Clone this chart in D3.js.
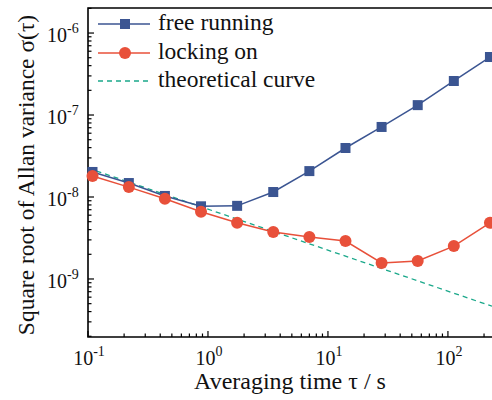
<!DOCTYPE html>
<html>
<head>
<meta charset="utf-8">
<script src="https://cdn.jsdelivr.net/npm/d3@7"></script>
<style>
  body { margin: 0; background: #fff; }
  svg text { font-family: "Liberation Serif", "DejaVu Serif", serif; fill: #111; }
</style>
</head>
<body>
<svg id="chart" width="492" height="400"></svg>
<script>
// averaging times (s)
var tau = [0.109, 0.219, 0.4375, 0.875, 1.75, 3.5, 7, 14, 28, 56, 112, 224];
// free running
var freeRunning = [2.02e-8, 1.48e-8, 1.03e-8, 7.7e-9, 7.8e-9, 1.15e-8, 2.07e-8, 3.96e-8, 7.15e-8, 1.32e-7, 2.6e-7, 5.1e-7];
// locking on
var lockingOn = [1.8e-8, 1.32e-8, 9.5e-9, 6.6e-9, 4.85e-9, 3.75e-9, 3.25e-9, 2.9e-9, 1.57e-9, 1.66e-9, 2.52e-9, 4.85e-9];
// theoretical curve end points (straight on log-log)
var theoryTau = [0.1, 233];
var theoryVal = [2.25e-8, 4.65e-10];

var xTicks = [0.1, 1, 10, 100];
var xTickExp = ["-1", "0", "1", "2"];
var yTicks = [1e-9, 1e-8, 1e-7, 1e-6];
var yTickExp = ["-9", "-8", "-7", "-6"];

var legendNames = ["free running", "locking on", "theoretical curve"];

var blue = "#3b5592", red = "#e8503a", teal = "#1aa88a";

var svg = d3.select("#chart"),
    pLeft = 88, pTop = 8, pRight = 493, pBottom = 337;

var x = d3.scaleLog().domain([0.1, 233]).range([pLeft, 492]);
var y = d3.scaleLog().domain([1.96e-10, 2.02e-6]).range([pBottom, pTop]);

// minor ticks
function minors(lo, hi) {
    var out = [];
    for (var e = lo; e < hi; e++) {
        for (var m = 2; m <= 9; m++) out.push(m * Math.pow(10, e));
    }
    return out;
}
var xMinor = minors(-1, 3).filter(function(v) { return v < 233; });
var yMinor = minors(-10, -5).filter(function(v) { return v > 1.96e-10 && v < 2.02e-6; });

var axes = svg.append("g").attr("stroke", "#000").attr("stroke-width", 1.2);
axes.selectAll(".xmaj").data(xTicks).enter().append("line")
    .attr("x1", function(d) { return x(d); }).attr("x2", function(d) { return x(d); })
    .attr("y1", pBottom).attr("y2", pBottom - 6);
axes.selectAll(".xmin").data(xMinor).enter().append("line")
    .attr("x1", function(d) { return x(d); }).attr("x2", function(d) { return x(d); })
    .attr("y1", pBottom).attr("y2", pBottom - 3.5);
axes.selectAll(".ymaj").data(yTicks).enter().append("line")
    .attr("y1", function(d) { return y(d); }).attr("y2", function(d) { return y(d); })
    .attr("x1", pLeft).attr("x2", pLeft + 6);
axes.selectAll(".ymin").data(yMinor).enter().append("line")
    .attr("y1", function(d) { return y(d); }).attr("y2", function(d) { return y(d); })
    .attr("x1", pLeft).attr("x2", pLeft + 3.5);

// frame
svg.append("path")
    .attr("d", "M" + pRight + "," + pTop + "H" + pLeft + "V" + pBottom + "H" + pRight)
    .attr("fill", "none").attr("stroke", "#000").attr("stroke-width", 1.6);

// tick labels
var xl = svg.selectAll(".xlab").data(xTicks).enter().append("text")
    .attr("x", function(d) { return x(d) + 1; }).attr("y", 365)
    .attr("text-anchor", "middle").attr("font-size", 20);
xl.append("tspan").text("10");
xl.append("tspan").attr("dy", -9).attr("font-size", 14).text(function(d, i) { return xTickExp[i]; });

var yl = svg.selectAll(".ylab").data(yTicks).enter().append("text")
    .attr("x", 47).attr("y", function(d) { return y(d) + 9; })
    .attr("font-size", 20);
yl.append("tspan").text("10");
yl.append("tspan").attr("dy", -9).attr("font-size", 14).text(function(d, i) { return yTickExp[i]; });

// axis titles
svg.append("text").attr("x", 290).attr("y", 389).attr("text-anchor", "middle")
    .attr("font-size", 24).text("Averaging time \u03c4 / s");
svg.append("text").attr("transform", "translate(34,175) rotate(-90)")
    .attr("text-anchor", "middle").attr("font-size", 23.5)
    .text("Square root of Allan variance \u03c3(\u03c4)");

var plot = svg.append("g");

var line = d3.line().x(function(d) { return x(d[0]); }).y(function(d) { return y(d[1]); });

plot.append("path").datum(d3.zip(theoryTau, theoryVal)).attr("d", line)
    .attr("fill", "none").attr("stroke", teal).attr("stroke-width", 1.3)
    .attr("stroke-dasharray", "5,4");

plot.append("path").datum(d3.zip(tau, freeRunning)).attr("d", line)
    .attr("fill", "none").attr("stroke", blue).attr("stroke-width", 1.5);
plot.selectAll(".sq").data(d3.zip(tau, freeRunning)).enter().append("rect")
    .attr("x", function(d) { return x(d[0]) - 5; }).attr("y", function(d) { return y(d[1]) - 5; })
    .attr("width", 10).attr("height", 10).attr("fill", blue);

plot.append("path").datum(d3.zip(tau, lockingOn)).attr("d", line)
    .attr("fill", "none").attr("stroke", red).attr("stroke-width", 1.5);
plot.selectAll(".ci").data(d3.zip(tau, lockingOn)).enter().append("circle")
    .attr("cx", function(d) { return x(d[0]); }).attr("cy", function(d) { return y(d[1]); })
    .attr("r", 6).attr("fill", red);

// legend
var leg = svg.append("g");
var rowY = [24, 53, 81];
legendNames.forEach(function(name, i) {
    var g = leg.append("g").attr("transform", "translate(0," + rowY[i] + ")");
    var ln = g.append("line").attr("x1", 98).attr("x2", 150).attr("y1", 0).attr("y2", 0)
        .attr("stroke-width", 1.5);
    if (i == 0) {
        ln.attr("stroke", blue);
        g.append("rect").attr("x", 120).attr("y", -5).attr("width", 10).attr("height", 10).attr("fill", blue);
    } else if (i == 1) {
        ln.attr("stroke", red);
        g.append("circle").attr("cx", 125).attr("cy", 0).attr("r", 6).attr("fill", red);
    } else {
        ln.attr("stroke", teal).attr("stroke-width", 1.3).attr("stroke-dasharray", "5,4");
    }
    g.append("text").attr("x", 158).attr("y", 6).attr("font-size", 23.5).text(name);
});
</script>
</body>
</html>
